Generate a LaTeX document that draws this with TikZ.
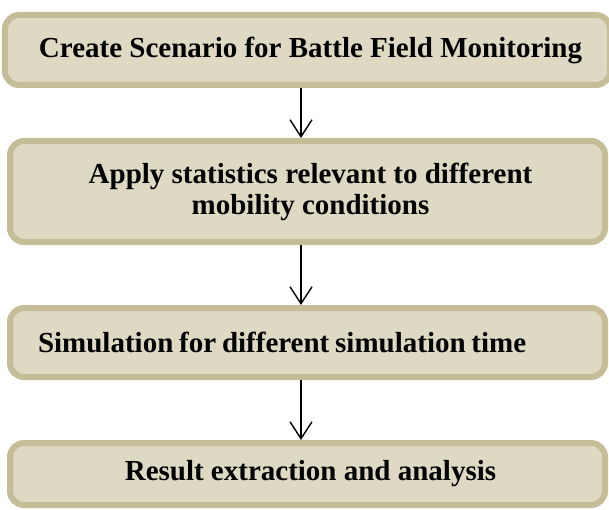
\documentclass[tikz,border=0pt]{standalone}
\usepackage{fontspec}
\setmainfont{Liberation Serif}
\usetikzlibrary{arrows.meta}
\definecolor{boxborder}{HTML}{C4BD97}
\definecolor{boxfill}{HTML}{DDD9C3}
\begin{document}
\begin{tikzpicture}[x=1pt,y=1pt,
  stepbox/.style={draw=boxborder, fill=boxfill, line width=6pt, rounded corners=14pt,
    minimum width=595pt, inner xsep=28pt, font=\fontsize{29}{31}\selectfont\bfseries, text=black},
  arr/.style={line width=1.4pt, -{Straight Barb[length=17pt,width=22pt,line width=1.4pt]}}]
\useasboundingbox (0,0) rectangle (609,-510);
\node[stepbox, minimum height=70pt] (b1) at (307.5,-50) {\hspace*{6pt}Create Scenario for Battle Field Monitoring};
\node[stepbox, minimum height=101pt, align=center] (b2) at (307.5,-191.5) {\hspace*{6pt}Apply statistics relevant to different\\\hspace*{6pt}mobility conditions};
\node[stepbox, minimum height=69pt, text width=539pt, align=left] (b3) at (307.5,-342.5) {\mbox{\spaceskip=5.8pt Simulation for different simulation time}};
\node[stepbox, minimum height=62pt] (b4) at (307.5,-474) {\hspace*{6pt}Result extraction and analysis};
\coordinate (ax) at (301,0);
\draw[arr] (b1.south -| ax) -- (b2.north -| ax);
\draw[arr] (b2.south -| ax) -- (b3.north -| ax);
\draw[arr] (b3.south -| ax) -- (b4.north -| ax);
\end{tikzpicture}
\end{document}
